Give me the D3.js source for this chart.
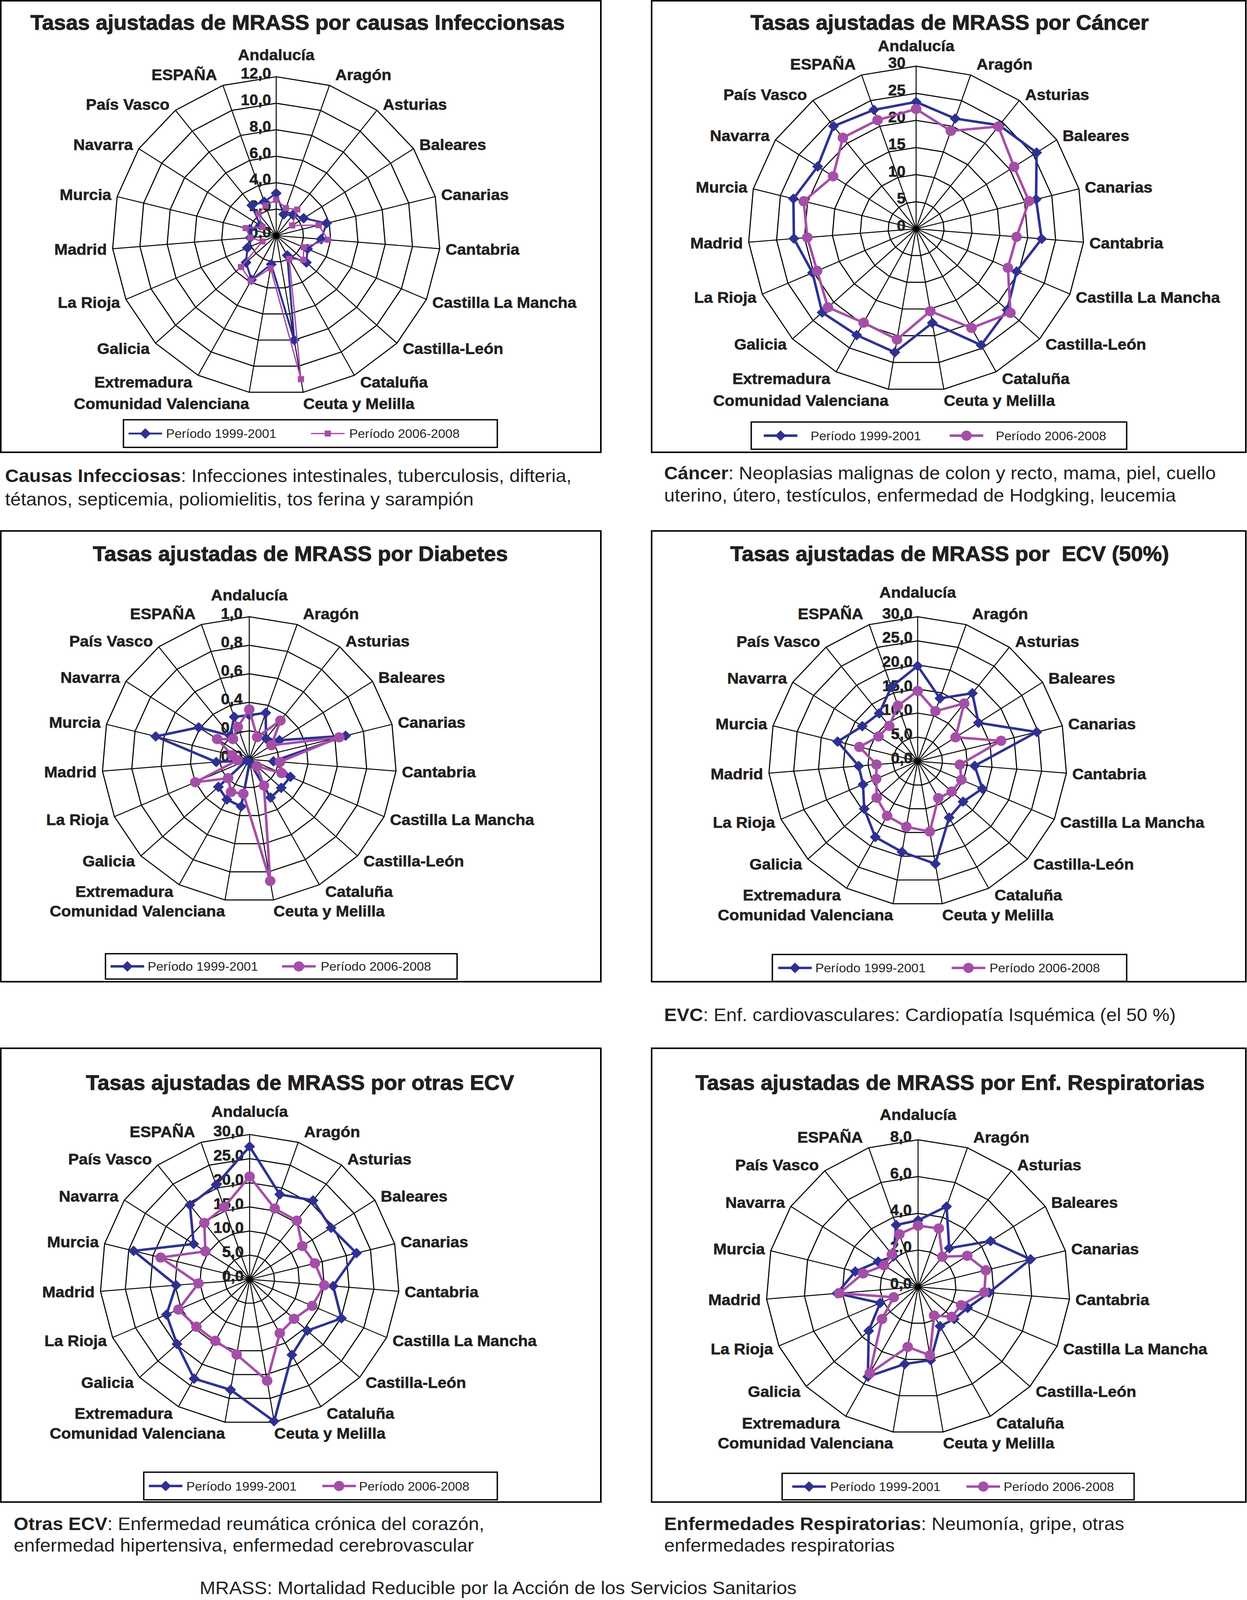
<!DOCTYPE html>
<html>
<head>
<meta charset="utf-8">
<script src="https://cdn.jsdelivr.net/npm/d3@7"></script>
<style>
  html, body { margin: 0; padding: 0; background: #fff; overflow: hidden; }
  svg { display: block; width: 100vw; height: 100vh; font-family: "Liberation Sans", Arial, sans-serif; }
</style>
</head>
<body>
<svg id="page" viewBox="0 0 3192 4231" preserveAspectRatio="none"></svg>
<script>
// ---------- Data ----------
const regions = [
  "Andalucía", "Aragón", "Asturias", "Baleares", "Canarias", "Cantabria",
  "Castilla La Mancha", "Castilla-León", "Cataluña", "Ceuta y Melilla",
  "Comunidad Valenciana", "Extremadura", "Galicia", "La Rioja", "Madrid",
  "Murcia", "Navarra", "País Vasco", "ESPAÑA"
];
const seriesNames = ["Período 1999-2001", "Período 2006-2008"];

const infec1999 = [3.2, 1.7, 2.0, 2.4, 3.8, 3.3, 2.5, 3.0, 1.7, 8.0, 2.2, 3.8, 3.0, 2.3, 1.9, 2.0, 1.4, 2.9, 2.7];
const infec2006 = [2.7, 2.2, 2.5, 1.4, 3.2, 3.8, 2.2, 2.7, 2.0, 11.0, 2.5, 3.9, 3.5, 1.1, 1.9, 2.3, 1.2, 2.1, 2.4];
const infecTicks = [0, 2, 4, 6, 8, 10, 12];

const cancer1999 = [23.4, 21.5, 24.2, 25.7, 22.1, 22.5, 19.6, 22.1, 24.4, 17.6, 23.1, 22.3, 22.8, 20.2, 21.9, 22.6, 21.0, 24.0, 23.2];
const cancer2006 = [22.1, 19.1, 23.9, 20.9, 20.8, 18.0, 17.9, 22.9, 20.8, 15.4, 20.7, 19.7, 21.4, 19.3, 19.5, 20.7, 17.7, 21.3, 21.2];
const cancerTicks = [0, 5, 10, 15, 20, 25, 30];

const diab1999 = [0.31, 0.345, 0.185, 0.245, 0.675, 0.165, 0.305, 0.295, 0.305, 0.02, 0.335, 0.32, 0.285, 0.02, 0.225, 0.655, 0.41, 0.21, 0.315];
const diab2006 = [0.35, 0.165, 0.345, 0.18, 0.63, 0.21, 0.24, 0.07, 0.21, 0.865, 0.245, 0.26, 0.195, 0.40, 0.08, 0.12, 0.26, 0.18, 0.24];
const diabTicks = [0, 0.2, 0.4, 0.6, 0.8, 1.0];

const ecv1999 = [19.8, 13.8, 17.9, 14.6, 24.7, 11.5, 14.2, 12.4, 13.3, 21.6, 19.1, 17.9, 14.6, 12.0, 11.9, 16.6, 13.3, 12.6, 16.3];
const ecv2006 = [14.6, 11.0, 15.2, 9.1, 17.3, 8.5, 9.6, 9.3, 8.7, 14.8, 13.8, 12.9, 11.2, 9.1, 8.3, 12.1, 9.4, 9.3, 12.2];
const ecvTicks = [0, 5, 10, 15, 20, 25, 30];

const otras1999 = [27.5, 18.6, 20.7, 19.5, 22.1, 16.8, 20.1, 15.7, 17.8, 29.8, 23.2, 23.4, 19.8, 18.2, 14.8, 24.0, 13.4, 19.5, 20.7];
const otras2006 = [21.3, 15.5, 15.4, 12.6, 13.5, 15.0, 13.7, 12.1, 12.7, 21.3, 15.8, 14.5, 14.5, 15.6, 10.3, 18.4, 10.6, 14.8, 15.8];
const otrasTicks = [0, 5, 10, 15, 20, 25, 30];

const resp1999 = [3.62, 4.62, 2.67, 4.56, 6.11, 3.75, 2.85, 2.58, 2.43, 4.04, 4.25, 5.55, 3.53, 2.18, 4.28, 3.41, 2.51, 2.1, 3.56];
const resp2006 = [3.33, 3.36, 2.08, 3.09, 3.68, 3.5, 2.48, 2.4, 1.77, 3.77, 3.31, 5.34, 2.58, 1.4, 4.16, 2.98, 2.14, 2.24, 3.03];
const respTicks = [0, 2, 4, 6, 8];

const BLUE = "#2e3192";
const MAGENTA = "#a54ea8";
const INK = "#231f20";

// ---------- Chart setup ----------
const charts = [
  { title: "Tasas ajustadas de MRASS por causas Infeccionsas", a: infec1999, b: infec2006, ticks: infecTicks, dec: 1,
    panel: [2, 2, 1536, 1194], cx: 707, cy: 623, r: 420, titleX: 762, titleY: 79, andGap: 44, tickGap: 13,
    legend: [316, 1110, 957, 73], items: [329, 425, 796, 894], mark2: "square", lw: [5, 3.5] },
  { title: "Tasas ajustadas de MRASS por Cáncer", a: cancer1999, b: cancer2006, ticks: cancerTicks, dec: 0,
    panel: [1668, 2, 1521, 1194], cx: 2345, cy: 605, r: 430, titleX: 2431, titleY: 79, andGap: 40, tickGap: 27,
    legend: [1923, 1116, 961, 72], items: [1955, 2075, 2431, 2549], mark2: "circle", lw: [6.5, 6.5] },
  { title: "Tasas ajustadas de MRASS por Diabetes", a: diab1999, b: diab2006, ticks: diabTicks, dec: 1,
    panel: [2, 1404, 1536, 1192], cx: 638, cy: 2008, r: 377, titleX: 769, titleY: 1483, andGap: 43, tickGap: 17,
    legend: [270, 2522, 900, 67], items: [283, 378, 722, 821], mark2: "circle", lw: [6.5, 6.5] },
  { title: "Tasas ajustadas de MRASS por  ECV (50%)", a: ecv1999, b: ecv2006, ticks: ecvTicks, dec: 1,
    panel: [1668, 1404, 1521, 1192], cx: 2349, cy: 2013, r: 382, titleX: 2431, titleY: 1483, andGap: 51, tickGap: 13,
    legend: [1977, 2524, 907, 71], items: [1992, 2087, 2436, 2533], mark2: "circle", lw: [6.5, 6.5] },
  { title: "Tasas ajustadas de MRASS por otras ECV", a: otras1999, b: otras2006, ticks: otrasTicks, dec: 1,
    panel: [2, 2772, 1536, 1200], cx: 639, cy: 3383, r: 383, titleX: 768, titleY: 2882, andGap: 47, tickGap: 15,
    legend: [368, 3893, 905, 73], items: [381, 477, 825, 919], mark2: "circle", lw: [6.5, 6.5] },
  { title: "Tasas ajustadas de MRASS por Enf. Respiratorias", a: resp1999, b: resp2006, ticks: respTicks, dec: 1,
    panel: [1668, 2772, 1521, 1200], cx: 2350, cy: 3403, r: 389, titleX: 2432, titleY: 2882, andGap: 53, tickGap: 16,
    legend: [2002, 3896, 901, 70], items: [2028, 2125, 2474, 2569], mark2: "circle", lw: [6.5, 6.5] }
];

const notes = [
  { x: 13, y: 1275, bold: "Causas Infecciosas", rest: ": Infecciones intestinales, tuberculosis, difteria," },
  { x: 13, y: 1337, bold: "", rest: "tétanos, septicemia, poliomielitis, tos ferina y sarampión" },
  { x: 1700, y: 1267, bold: "Cáncer", rest: ": Neoplasias malignas de colon y recto, mama, piel, cuello" },
  { x: 1700, y: 1326, bold: "", rest: "uterino, útero, testículos, enfermedad de Hodgking, leucemia" },
  { x: 1700, y: 2700, bold: "EVC", rest: ": Enf. cardiovasculares: Cardiopatía Isquémica (el 50 %)" },
  { x: 35, y: 4046, bold: "Otras ECV", rest: ": Enfermedad reumática crónica del corazón," },
  { x: 35, y: 4103, bold: "", rest: "enfermedad hipertensiva, enfermedad cerebrovascular" },
  { x: 1700, y: 4046, bold: "Enfermedades Respiratorias", rest: ": Neumonía, gripe, otras" },
  { x: 1700, y: 4103, bold: "", rest: "enfermedades respiratorias" }
];

const svg = d3.select("#page");
svg.append("rect").attr("width", 3192).attr("height", 4231).attr("fill", "#fff");

const diamond = (h) => `M0,${-h}L${h},0L0,${h}L${-h},0Z`;

function marker(sel, kind, color) {
  if (kind === "diamond") sel.append("path").attr("d", diamond(14)).attr("fill", color);
  else if (kind === "square") sel.append("rect").attr("x", -8).attr("y", -8).attr("width", 16).attr("height", 16).attr("fill", color);
  else sel.append("circle").attr("r", 13.5).attr("fill", color);
}

function fmtTick(v, dec) {
  return dec ? d3.format(".1f")(v).replace(".", ",") : d3.format("d")(v);
}

// ---------- Radar ----------
function drawRadar(c) {
  const g = svg.append("g");
  const [px, py, pw, ph] = c.panel;
  g.append("rect").attr("x", px).attr("y", py).attr("width", pw).attr("height", ph)
    .attr("fill", "none").attr("stroke", "#000").attr("stroke-width", 4);

  g.append("text").attr("x", c.titleX).attr("y", c.titleY)
    .attr("text-anchor", "middle").attr("font-size", 55).attr("font-weight", "bold")
    .attr("fill", INK).attr("stroke", INK).attr("stroke-width", 1.4)
    .attr("xml:space", "preserve").text(c.title);

  const n = regions.length;
  const angle = d3.scaleLinear().domain([0, n]).range([0, 2 * Math.PI]);
  const rad = d3.scaleLinear().domain([0, d3.max(c.ticks)]).range([0, c.r]);
  const plot = g.append("g").attr("transform", `translate(${c.cx},${c.cy})`);

  // grid rings
  const ring = d3.lineRadial().angle((d, i) => angle(i)).radius((d) => rad(d)).curve(d3.curveLinearClosed);
  c.ticks.slice(1).forEach((t) => {
    plot.append("path").attr("d", ring(regions.map(() => t)))
      .attr("fill", "none").attr("stroke", "#000").attr("stroke-width", 2.8);
  });

  // spokes
  plot.append("g").selectAll("line").data(regions).enter().append("line")
    .attr("x1", 0).attr("y1", 0)
    .attr("x2", (d, i) => d3.pointRadial(angle(i), c.r)[0])
    .attr("y2", (d, i) => d3.pointRadial(angle(i), c.r)[1])
    .attr("stroke", "#000").attr("stroke-width", 2.5);

  // tick labels
  plot.append("g").selectAll("text").data(c.ticks).enter().append("text")
    .attr("x", -c.tickGap).attr("y", (d) => -rad(d) + 5)
    .attr("text-anchor", "end").attr("font-size", 40).attr("font-weight", "bold")
    .attr("fill", INK).attr("stroke", INK).attr("stroke-width", 0.8)
    .text((d) => fmtTick(d, c.dec));

  // category labels
  plot.append("g").selectAll("text").data(regions).enter().append("text")
    .each(function (d, i) {
      const a = angle(i);
      const [vx, vy] = d3.pointRadial(a, c.r);
      const s = Math.sin(a), co = Math.cos(a);
      const t = d3.select(this);
      if (i === 0) {
        t.attr("x", vx).attr("y", vy - c.andGap).attr("text-anchor", "middle");
      } else {
        const near = Math.abs(s) < 0.2;
        const x = near ? vx : vx + Math.sign(s) * 15;
        const yc = vy - co * 20 - (Math.abs(co) > 0.9 ? co * 10 : 0);
        t.attr("x", x).attr("y", yc).attr("dy", "0.35em")
          .attr("text-anchor", s > 0 ? "start" : "end");
      }
    })
    .attr("font-size", 41).attr("font-weight", "bold")
    .attr("fill", INK).attr("stroke", INK).attr("stroke-width", 0.8)
    .text((d) => d);

  // series
  const series = [
    { vals: c.a, color: BLUE, mark: "diamond", lw: c.lw[0] },
    { vals: c.b, color: MAGENTA, mark: c.mark2, lw: c.lw[1] }
  ];
  const line = d3.lineRadial().angle((d, i) => angle(i)).radius((d) => rad(d)).curve(d3.curveLinearClosed);
  series.forEach((s) => {
    const sg = plot.append("g");
    sg.append("path").attr("d", line(s.vals)).attr("fill", "none")
      .attr("stroke", s.color).attr("stroke-width", s.lw).attr("stroke-linejoin", "miter");
    sg.selectAll("g.pt").data(s.vals).enter().append("g").attr("class", "pt")
      .attr("transform", (d, i) => `translate(${d3.pointRadial(angle(i), rad(d))})`)
      .each(function () { marker(d3.select(this), s.mark, s.color); });
  });

  // legend
  const [lx, ly, lwid, lh] = c.legend;
  const lg = g.append("g");
  lg.append("rect").attr("x", lx).attr("y", ly).attr("width", lwid).attr("height", lh)
    .attr("fill", "#fff").attr("stroke", "#000").attr("stroke-width", 3.5);
  const my = ly + lh / 2;
  series.forEach((s, k) => {
    const x0 = c.items[k * 2], tx = c.items[k * 2 + 1];
    lg.append("line").attr("x1", x0).attr("x2", x0 + 86).attr("y1", my).attr("y2", my)
      .attr("stroke", s.color).attr("stroke-width", s.lw);
    marker(lg.append("g").attr("transform", `translate(${x0 + 43},${my})`), s.mark, s.color);
    lg.append("text").attr("x", tx).attr("y", my).attr("dy", "0.36em")
      .attr("font-size", 33).attr("fill", INK).text(seriesNames[k]);
  });
}

charts.forEach(drawRadar);

// ---------- Notes ----------
const nt = svg.append("g").attr("font-size", 48.5).attr("fill", INK);
notes.forEach((d) => {
  const t = nt.append("text").attr("x", d.x).attr("y", d.y);
  if (d.bold) t.append("tspan").attr("font-weight", "bold").text(d.bold);
  t.append("tspan").text(d.rest);
});
nt.append("text").attr("x", 1275).attr("y", 4216).attr("text-anchor", "middle")
  .text("MRASS: Mortalidad Reducible por la Acción de los Servicios Sanitarios");
</script>
</body>
</html>
